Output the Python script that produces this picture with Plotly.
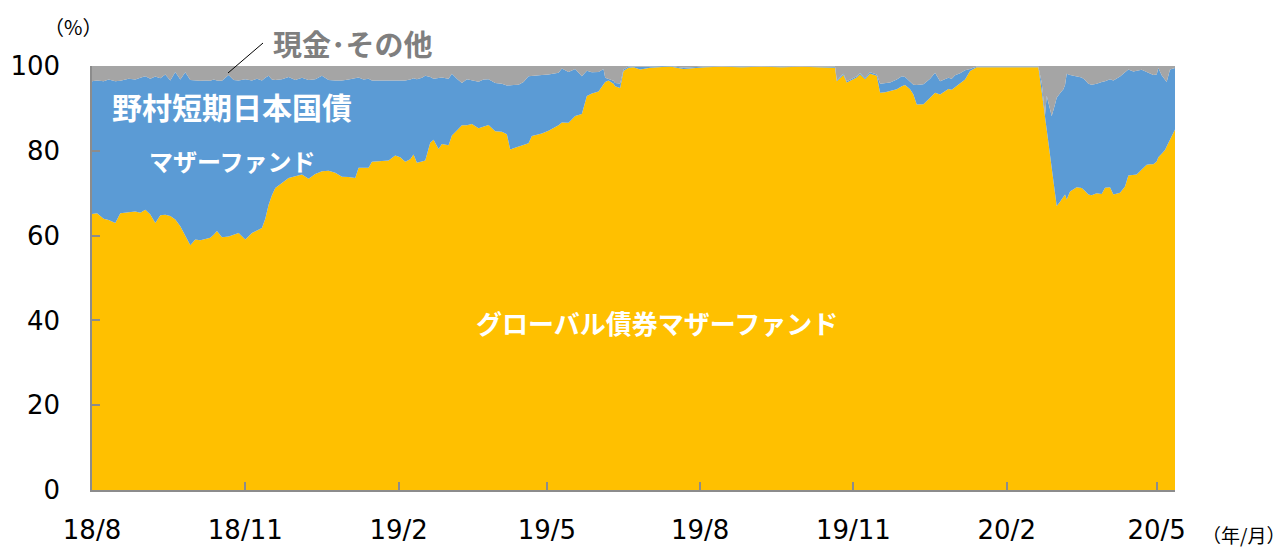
import plotly.graph_objects as go

dates = [
    "2018-08-01", "2018-08-04", "2018-08-08", "2018-08-11", "2018-08-15", "2018-08-18", "2018-08-23", "2018-08-27",
    "2018-08-30", "2018-09-02", "2018-09-05", "2018-09-08", "2018-09-11", "2018-09-14", "2018-09-17", "2018-09-20",
    "2018-09-23", "2018-09-26", "2018-09-29", "2018-10-02", "2018-10-05", "2018-10-08", "2018-10-11", "2018-10-13",
    "2018-10-15", "2018-10-18", "2018-10-22", "2018-10-25", "2018-10-28", "2018-11-01", "2018-11-05", "2018-11-08",
    "2018-11-11", "2018-11-13", "2018-11-15", "2018-11-17", "2018-11-19", "2018-11-23", "2018-11-27", "2018-12-01",
    "2018-12-05", "2018-12-09", "2018-12-13", "2018-12-17", "2018-12-21", "2018-12-25", "2018-12-29", "2019-01-02",
    "2019-01-06", "2019-01-08", "2019-01-11", "2019-01-14", "2019-01-16", "2019-01-21", "2019-01-26", "2019-01-30",
    "2019-02-02", "2019-02-05", "2019-02-08", "2019-02-10", "2019-02-12", "2019-02-15", "2019-02-17", "2019-02-20",
    "2019-02-22", "2019-02-25", "2019-02-27", "2019-03-03", "2019-03-05", "2019-03-08", "2019-03-11", "2019-03-14",
    "2019-03-17", "2019-03-21", "2019-03-24", "2019-03-27", "2019-03-31", "2019-04-04", "2019-04-07", "2019-04-09",
    "2019-04-11", "2019-04-14", "2019-04-17", "2019-04-20", "2019-04-22", "2019-04-25", "2019-04-28", "2019-05-02",
    "2019-05-05", "2019-05-08", "2019-05-10", "2019-05-14", "2019-05-18", "2019-05-22", "2019-05-25", "2019-05-28",
    "2019-06-01", "2019-06-04", "2019-06-05", "2019-06-07", "2019-06-10", "2019-06-11", "2019-06-14", "2019-06-16",
    "2019-06-19", "2019-06-22", "2019-06-26", "2019-07-02", "2019-07-08", "2019-07-14", "2019-07-22", "2019-07-28",
    "2019-08-04", "2019-08-14", "2019-08-26", "2019-09-07", "2019-09-19", "2019-10-01", "2019-10-10", "2019-10-18",
    "2019-10-21", "2019-10-22", "2019-10-26", "2019-10-28", "2019-10-31", "2019-11-03", "2019-11-05", "2019-11-08",
    "2019-11-11", "2019-11-15", "2019-11-17", "2019-11-20", "2019-11-23", "2019-11-27", "2019-11-30", "2019-12-02",
    "2019-12-05", "2019-12-07", "2019-12-09", "2019-12-13", "2019-12-17", "2019-12-20", "2019-12-23", "2019-12-26",
    "2019-12-28", "2019-12-30", "2020-01-01", "2020-01-04", "2020-01-07", "2020-01-10", "2020-01-14", "2020-01-23",
    "2020-02-01", "2020-02-10", "2020-02-20", "2020-02-22", "2020-02-24", "2020-02-25", "2020-02-28", "2020-03-01",
    "2020-03-02", "2020-03-04", "2020-03-06", "2020-03-07", "2020-03-08", "2020-03-10", "2020-03-14", "2020-03-17",
    "2020-03-19", "2020-03-21", "2020-03-23", "2020-03-26", "2020-03-29", "2020-03-31", "2020-04-03", "2020-04-05",
    "2020-04-09", "2020-04-12", "2020-04-14", "2020-04-17", "2020-04-19", "2020-04-22", "2020-04-25", "2020-04-27",
    "2020-04-29", "2020-05-01", "2020-05-02", "2020-05-04", "2020-05-06", "2020-05-07", "2020-05-09", "2020-05-12",
]

global_bond = [
    65.1, 65.3, 64.0, 63.7, 63.0, 65.3, 65.5, 65.7, 65.4, 66.1, 65.0, 63.0, 64.8, 64.9, 64.6, 63.8,
    62.2, 59.8, 57.7, 59.1, 58.9, 59.2, 59.5, 60.2, 61.1, 59.6, 59.8, 60.2, 60.6, 59.1, 60.6, 61.2,
    61.8, 64.0, 67.3, 69.5, 71.2, 72.4, 73.6, 74.0, 74.4, 73.4, 74.5, 75.2, 75.3, 74.8, 73.9, 73.8,
    73.6, 76.0, 76.0, 76.0, 77.4, 77.5, 77.7, 78.9, 78.5, 77.4, 78.0, 79.1, 77.2, 77.5, 77.7, 81.9,
    82.6, 80.4, 81.6, 81.3, 83.6, 84.8, 86.0, 86.0, 86.3, 85.3, 85.7, 86.1, 84.6, 84.5, 83.9, 80.3,
    80.6, 81.0, 81.4, 81.8, 83.5, 83.8, 84.1, 84.7, 85.3, 86.0, 86.7, 86.6, 88.2, 88.7, 92.9, 93.5,
    94.0, 95.6, 96.2, 96.6, 95.8, 95.2, 94.8, 98.8, 99.6, 99.7, 99.2, 99.6, 99.8, 99.9, 99.3, 99.5,
    99.7, 99.8, 99.7, 99.8, 99.7, 99.8, 99.7, 99.7, 99.6, 96.4, 97.9, 96.1, 96.7, 97.3, 98.0, 96.9,
    98.2, 97.7, 93.7, 93.8, 94.1, 94.5, 95.2, 95.5, 94.5, 93.3, 90.9, 91.0, 92.5, 93.7, 93.3, 94.2,
    94.6, 94.4, 95.0, 95.8, 96.8, 98.8, 99.7, 99.7, 99.7, 99.8, 99.7, 94.0, 88.2, 84.0, 76.0, 70.0,
    67.0, 68.0, 69.0, 69.7, 68.5, 70.4, 71.4, 71.2, 70.5, 69.7, 69.5, 70.0, 69.8, 71.3, 71.4, 69.7,
    70.1, 71.6, 74.2, 74.3, 74.4, 75.6, 76.7, 76.8, 76.8, 77.5, 78.5, 79.3, 80.2, 81.0, 82.6, 85.0,
]

jgb_short = [
    31.3, 31.3, 32.4, 33.1, 33.4, 31.2, 31.5, 31.1, 31.8, 31.5, 32.0, 34.5, 32.3, 33.1, 32.0, 34.8,
    34.6, 38.7, 39.0, 37.5, 37.6, 37.4, 37.0, 36.6, 35.5, 36.9, 38.1, 36.5, 36.0, 37.8, 36.0, 35.8,
    34.8, 33.2, 30.4, 27.3, 25.5, 24.5, 23.8, 22.7, 22.8, 23.3, 22.4, 22.5, 21.4, 21.8, 22.7, 23.0,
    23.6, 21.3, 20.8, 21.0, 19.2, 19.1, 18.9, 17.8, 18.1, 19.2, 18.8, 18.0, 19.7, 19.7, 20.0, 15.5,
    14.4, 16.8, 15.7, 15.7, 14.6, 12.2, 10.0, 10.9, 10.4, 11.0, 11.1, 10.8, 11.4, 11.3, 11.5, 15.1,
    14.9, 14.6, 14.8, 15.8, 14.2, 14.0, 13.8, 13.3, 12.9, 12.4, 12.7, 12.0, 11.1, 8.9, 6.0, 5.0,
    4.6, 3.7, 1.0, 0.3, 0.7, 0.8, 1.1, 0.4, 0.3, 0.2, 0.6, 0.3, 0.2, 0.1, 0.3, 0.3,
    0.2, 0.1, 0.2, 0.1, 0.2, 0.1, 0.2, 0.2, 0.2, 0.3, 0.3, 0.3, 0.3, 0.3, 0.3, 0.3,
    0.3, 0.3, 2.1, 2.2, 2.0, 2.3, 2.4, 1.9, 1.7, 2.3, 4.6, 4.7, 4.5, 4.7, 3.1, 2.6,
    2.6, 2.6, 2.8, 2.5, 2.2, 0.5, 0.2, 0.2, 0.2, 0.1, 0.2, 2.0, 0.3, 9.0, 12.2, 21.0,
    25.5, 25.6, 25.5, 25.8, 29.7, 27.5, 26.2, 26.1, 26.2, 26.1, 26.1, 25.8, 26.4, 25.1, 25.5, 26.9,
    27.4, 27.0, 25.0, 24.4, 24.4, 23.5, 21.9, 21.5, 21.1, 20.5, 21.0, 18.5, 16.6, 15.2, 16.6, 14.5,
]

cash_other = [
    3.6, 3.4, 3.6, 3.2, 3.6, 3.5, 3.0, 3.2, 2.8, 2.4, 3.0, 2.5, 2.9, 2.0, 3.4, 1.4,
    3.2, 1.5, 3.3, 3.4, 3.5, 3.4, 3.5, 3.2, 3.4, 3.5, 2.1, 3.3, 3.4, 3.1, 3.4, 3.0,
    3.4, 2.8, 2.3, 3.2, 3.3, 3.1, 2.6, 3.3, 2.8, 3.3, 3.1, 2.3, 3.3, 3.4, 3.4, 3.2,
    2.8, 2.7, 3.2, 3.0, 3.4, 3.4, 3.4, 3.3, 3.4, 3.4, 3.2, 2.9, 3.1, 2.8, 2.3, 2.6,
    3.0, 2.8, 2.7, 3.0, 1.8, 3.0, 4.0, 3.1, 3.3, 3.7, 3.2, 3.1, 4.0, 4.2, 4.6, 4.6,
    4.5, 4.4, 3.8, 2.4, 2.3, 2.2, 2.1, 2.0, 1.8, 1.6, 0.6, 1.4, 0.7, 2.4, 1.1, 1.5,
    1.4, 0.7, 2.8, 3.1, 3.5, 4.0, 4.1, 0.8, 0.1, 0.1, 0.2, 0.1, 0.0, 0.0, 0.4, 0.2,
    0.1, 0.1, 0.1, 0.1, 0.1, 0.1, 0.1, 0.1, 0.2, 3.3, 1.8, 3.6, 3.0, 2.4, 1.7, 2.8,
    1.5, 2.0, 4.2, 4.0, 3.9, 3.2, 2.4, 2.6, 3.8, 4.4, 4.5, 4.3, 3.0, 1.6, 3.6, 3.2,
    2.8, 3.0, 2.2, 1.7, 1.0, 0.7, 0.1, 0.1, 0.1, 0.1, 0.1, 4.0, 11.5, 7.0, 11.8, 9.0,
    7.5, 6.4, 5.5, 4.5, 1.8, 2.1, 2.4, 2.7, 3.3, 4.2, 4.4, 4.2, 3.8, 3.6, 3.1, 3.4,
    2.5, 1.4, 0.8, 1.3, 1.2, 0.9, 1.4, 1.7, 2.1, 2.0, 0.5, 2.2, 3.2, 3.8, 0.8, 0.5,
]

tick_dates = ["2018-08-01", "2018-11-01", "2019-02-01", "2019-05-01",
              "2019-08-01", "2019-11-01", "2020-02-01", "2020-05-01"]
tick_labels = ["18/8", "18/11", "19/2", "19/5", "19/8", "19/11", "20/2", "20/5"]

series = [
    ("グローバル債券マザーファンド", global_bond, "#FFC000"),
    ("野村短期日本国債マザーファンド", jgb_short, "#5B9BD5"),
    ("現金・その他", cash_other, "#A5A5A5"),
]

fig = go.Figure()
for name, vals, color in series:
    fig.add_trace(go.Scatter(
        x=dates, y=vals, name=name, mode="lines", stackgroup="one",
        line=dict(width=0, color=color), fillcolor=color, showlegend=False,
    ))

axis_color = "#8C8C8C"
tick_font = dict(family="DejaVu Sans", size=26, color="#000000")
cjk = "Noto Sans CJK JP"


def label(text, x, y, size, color, bold=True):
    return dict(text=text, xref="paper", yref="paper", x=x, y=y,
                xanchor="center", yanchor="middle", showarrow=False,
                font=dict(family=cjk, size=size, color=color,
                          weight="bold" if bold else "normal"))


fig.update_layout(
    width=1276, height=539,
    margin=dict(l=84, r=109, t=58, b=57, autoexpand=False),
    paper_bgcolor="white", plot_bgcolor="white",
    xaxis=dict(
        type="date", range=["2018-08-01", "2020-05-12"],
        tickvals=tick_dates, ticktext=tick_labels,
        ticks="inside", ticklen=8, tickwidth=1.5, tickcolor=axis_color,
        showline=True, linecolor=axis_color, linewidth=1.5,
        showgrid=False, zeroline=False, tickfont=tick_font,
        ticklabelstandoff=16, automargin=False,
    ),
    yaxis=dict(
        range=[0, 100], tickvals=[0, 20, 40, 60, 80, 100],
        ticks="inside", ticklen=8, tickwidth=1.5, tickcolor=axis_color,
        showline=True, linecolor=axis_color, linewidth=1.5,
        showgrid=False, zeroline=False, tickfont=tick_font,
        ticklabelstandoff=25, automargin=False,
    ),
    shapes=[dict(type="line", xref="paper", yref="paper",
                 x0=0.1256, y0=0.9835, x1=0.1579, y1=1.0542,
                 line=dict(color="#000000", width=1))],
    annotations=[
        label("現金･その他", 0.2410, 1.0542, 29, "#7F7F7F"),
        label("野村短期日本国債", 0.1293, 0.9057, 30, "#FFFFFF"),
        label("マザーファンド", 0.1293, 0.7783, 24, "#FFFFFF"),
        label("グローバル債券マザーファンド", 0.5217, 0.3939, 26, "#FFFFFF"),
        label("（%）", -0.0175, 1.092, 20, "#000000", bold=False),
        label("（年/月）", 1.0637, -0.106, 19, "#000000", bold=False),
    ],
)

fig.write_html("out.html")
